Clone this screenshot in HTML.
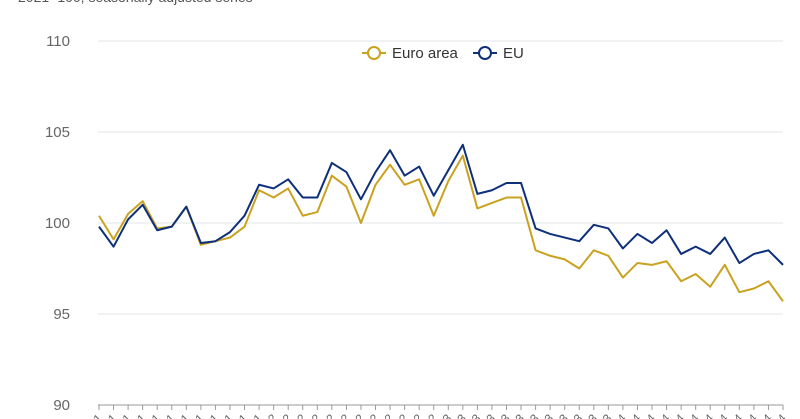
<!DOCTYPE html>
<html><head><meta charset="utf-8"><style>
html,body{margin:0;padding:0;background:#fff;width:800px;height:419px;overflow:hidden}
svg{display:block}
text{font-family:"Liberation Sans",sans-serif}
</style></head><body>
<svg id="chart" width="800" height="419">
<text x="18" y="2" font-size="14" fill="#555">2021=100, seasonally adjusted series</text>
<g id="grid"></g><g id="xaxis"></g><g id="series"></g>
<g>
<g>
<line x1="362" y1="53" x2="386" y2="53" stroke="#c9a220" stroke-width="2"/>
<circle cx="374" cy="53" r="6" fill="#fff" stroke="#c9a220" stroke-width="2"/>
<text x="392" y="58" font-size="15" fill="#333">Euro area</text></g>
<g>
<line x1="473" y1="53" x2="497" y2="53" stroke="#0e2f7a" stroke-width="2"/>
<circle cx="485" cy="53" r="6" fill="#fff" stroke="#0e2f7a" stroke-width="2"/>
<text x="503" y="58" font-size="15" fill="#333">EU</text></g>
</g>
</svg>
<script>
const yTicks=[90,95,100,105,110];
const euroArea=[100.4,99.1,100.5,101.2,99.7,99.8,100.9,98.8,99.0,99.2,99.8,101.8,101.4,101.9,100.4,100.6,102.6,102.0,100.0,102.1,103.2,102.1,102.4,100.4,102.3,103.7,100.8,101.1,101.4,101.4,98.5,98.2,98.0,97.5,98.5,98.2,97.0,97.8,97.7,97.9,96.8,97.2,96.5,97.7,96.2,96.4,96.8,95.7];
const eu=[99.8,98.7,100.2,101.0,99.6,99.8,100.9,98.9,99.0,99.5,100.4,102.1,101.9,102.4,101.4,101.4,103.3,102.8,101.3,102.8,104.0,102.6,103.1,101.5,102.9,104.3,101.6,101.8,102.2,102.2,99.7,99.4,99.2,99.0,99.9,99.7,98.6,99.4,98.9,99.6,98.3,98.7,98.3,99.2,97.8,98.3,98.5,97.7];
const years=[2021,2022,2023,2024];
const months=['Jan','Feb','Mar','Apr','May','Jun','Jul','Aug','Sep','Oct','Nov','Dec'];
const categories=[];years.forEach(y=>{months.forEach(m=>categories.push(m+' '+y));});
const NS='http://www.w3.org/2000/svg';
const x0=99,x1=783,yTop=41,yBot=405,vMin=90,vMax=110;
const xs=i=>x0+(x1-x0)*i/(categories.length-1);
const ys=v=>yBot-(v-vMin)/(vMax-vMin)*(yBot-yTop);
function mk(t,a,p){const e=document.createElementNS(NS,t);for(const k in a)e.setAttribute(k,a[k]);p.appendChild(e);return e;}
const grid=document.getElementById('grid');
yTicks.forEach(v=>{
 const l=mk('line',{x1:98,x2:783,y1:ys(v),y2:ys(v),stroke:v===90?'#9a9a9a':'#e3e6ea','stroke-width':1},grid);
 
 
 const t=mk('text',{x:70,y:ys(v)+5,'text-anchor':'end','font-size':15,fill:'#666'},grid);
 t.textContent=v;
 
 
});
const xa=document.getElementById('xaxis');
categories.forEach((c,i)=>{
 const tk=mk('line',{x1:xs(i),x2:xs(i),y1:yBot,y2:yBot+5,stroke:'#9a9a9a'},xa);
 
 
 const tx=xs(i)+4,ty=yBot+14;
 const t=mk('text',{x:tx,y:ty,'text-anchor':'end','font-size':12,fill:'#666',transform:'rotate(-45 '+tx+' '+ty+')'},xa);
 t.textContent=c;
 
 
});
const sg=document.getElementById('series');
[[euroArea,'#c9a220','euro-area-line'],[eu,'#0e2f7a','eu-line']].forEach(([d,col,n])=>{
 const p=mk('polyline',{points:d.map((v,i)=>xs(i)+','+ys(v)).join(' '),fill:'none',stroke:col,'stroke-width':2,'stroke-linejoin':'round'},sg);
 
 
});
</script>
</body></html>
